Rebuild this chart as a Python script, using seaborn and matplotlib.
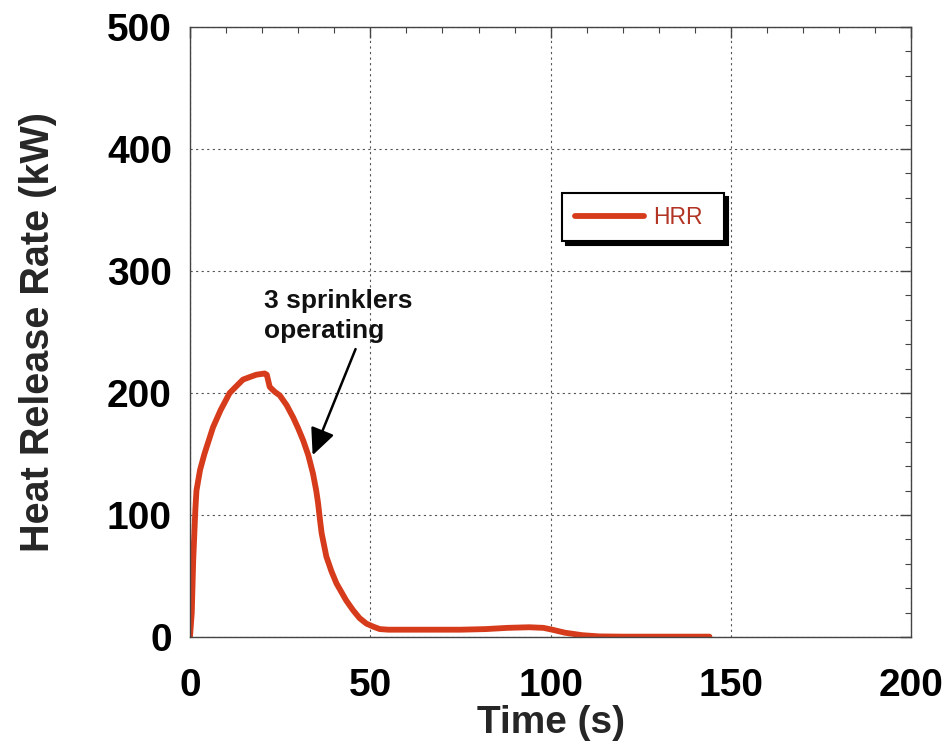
import matplotlib
matplotlib.use("Agg")
import matplotlib.pyplot as plt
import seaborn as sns
import pandas as pd
from matplotlib.ticker import MultipleLocator

# Données
temps = [0, 0.5, 0.9, 1.5, 1.8, 2.8, 4, 6.4, 8.5, 11, 13, 14.7, 16.5, 18.4, 20.7,
         21.3, 22.1, 23.5, 24.9, 26.8, 28.6, 30, 31.4, 32.8, 34.1, 35, 35.5, 36,
         36.5, 37.8, 39.2, 40.6, 43.3, 45.2, 47, 48.9, 50.8, 52.6, 55, 65, 75,
         82, 88, 94, 98, 100.4, 104, 108.7, 113.4, 120, 130, 144]
hrr = [0, 20, 63, 105, 120, 137, 150, 172, 186, 200, 206, 211, 213, 215, 216,
       215, 205, 201, 198, 190, 180, 171, 161, 149, 134, 120, 110, 97,
       85, 66, 54, 44, 30, 22, 15.5, 11, 8.5, 6.5, 6, 6, 6,
       6.5, 7.5, 8, 7.5, 6, 3.5, 1.5, 0.5, 0.3, 0.3, 0.3]

df = pd.DataFrame({"Time (s)": temps, "HRR": hrr})

sns.set_theme(style="white")
plt.rcParams["font.family"] = ["Liberation Sans", "DejaVu Sans"]

fig = plt.figure(figsize=(9.47, 7.44), dpi=100)
ax = fig.add_axes([0.2006, 0.1438, 0.7619, 0.8199])

sns.lineplot(data=df, x="Time (s)", y="HRR", ax=ax, color="#d63c1b",
             linewidth=4.2, label="HRR", sort=False)

ax.set_xlim(0, 200)
ax.set_ylim(0, 500)
ax.xaxis.set_major_locator(MultipleLocator(50))
ax.xaxis.set_minor_locator(MultipleLocator(10))
ax.yaxis.set_major_locator(MultipleLocator(100))
ax.yaxis.set_minor_locator(MultipleLocator(20))

ax.grid(True, which="major", color="#555555", linestyle=(0, (2, 3)), linewidth=0.8)
ax.tick_params(which="both", direction="in", top=True, right=True, colors="#444444",
               labelcolor="black")
ax.tick_params(which="major", length=8, width=1)
ax.tick_params(which="minor", length=4.5, width=0.8)
ax.tick_params(axis="x", which="major", pad=22)
ax.tick_params(axis="y", which="major", pad=13)
for lab in ax.get_xticklabels() + ax.get_yticklabels():
    lab.set_fontsize(28)
    lab.set_fontweight("bold")
for sp in ax.spines.values():
    sp.set_color("#444444")
    sp.set_linewidth(1)

ax.set_xlabel("Time (s)", fontsize=28, fontweight="bold", labelpad=1)
ax.set_ylabel("Heat Release Rate (kW)", fontsize=28.5, fontweight="bold", labelpad=36)

ax.text(20.5, 285, "3 sprinklers\noperating", fontsize=19, fontweight="bold",
        ha="left", va="top", color="#111111", linespacing=1.3)
ax.annotate("", xy=(34, 149), xytext=(45.9, 236),
            arrowprops=dict(arrowstyle="-|>,head_length=0.65,head_width=0.3",
                            mutation_scale=25, color="black", lw=1.8,
                            shrinkA=0, shrinkB=0))

leg = ax.legend(loc="upper left", bbox_to_anchor=(0.516, 0.728, 0.224, 0.0),
                mode="expand", fontsize=16.5, handlelength=3.0, handletextpad=0.4,
                frameon=True, fancybox=False, edgecolor="black", borderaxespad=0,
                borderpad=0.55,
                shadow={"color": "black", "alpha": 1, "ox": 3, "oy": -3})
leg.get_frame().set_linewidth(1.5)
for t in leg.get_texts():
    t.set_color("#b23424")

fig.savefig("out.png", dpi=100, facecolor="white")
